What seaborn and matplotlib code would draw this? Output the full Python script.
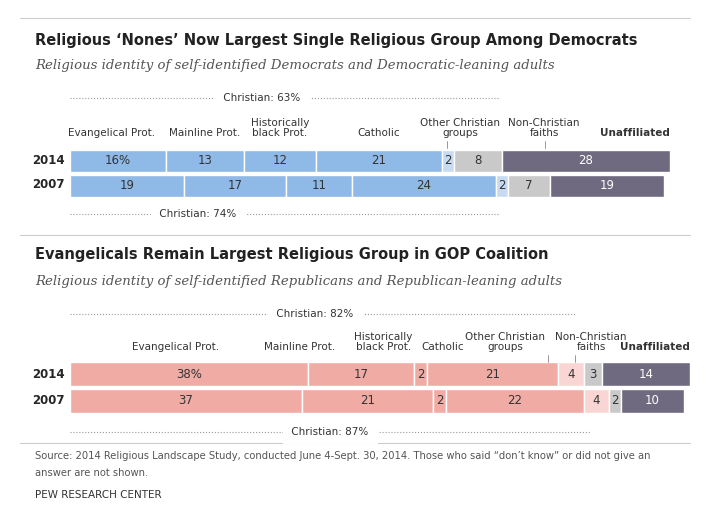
import matplotlib
matplotlib.use("Agg")
import matplotlib.pyplot as plt
import seaborn as sns
import numpy as np

sns.set_style("white")
plt.rcParams['font.family'] = ['DejaVu Sans']

years = ["2014", "2007"]
cats = ["Evangelical Prot.", "Mainline Prot.", "Historically\nblack Prot.", "Catholic",
        "Other Christian\ngroups", "Non-Christian\nfaiths", "Unaffiliated"]
dem_2014 = [16, 13, 12, 21, 2, 8, 28]
dem_2007 = [19, 17, 11, 24, 2, 7, 19]
rep_2014 = [38, 17, 2, 21, 4, 3, 14]
rep_2007 = [37, 21, 2, 22, 4, 2, 10]

W, H = 709, 512
fig = plt.figure(figsize=(W/100, H/100), dpi=100)

def P(x, y):
    return x / W, 1 - y / H

def txt(x, y, s, **kw):
    fx, fy = P(x, y)
    fig.text(fx, fy, s, **kw)

def hline(x0, x1, y, **kw):
    fig.add_artist(plt.Line2D([x0/W, x1/W], [1-y/H, 1-y/H], **kw))

def vline(x, y0, y1, **kw):
    fig.add_artist(plt.Line2D([x/W, x/W], [1-y0/H, 1-y1/H], **kw))

blue, lblue = "#8fb9e6", "#c6dbf1"
red, lred = "#f0aba4", "#f9d6d3"
gray, purple = "#c9c9c9", "#6f6a80"

def panel(y_top, y_bot, xmax, x_right, rows, colors):
    ax = fig.add_axes([70/W, 1-y_bot/H, (x_right-70)/W, (y_bot-y_top)/H])
    for i, vals in enumerate(rows):
        left = 0
        for j, v in enumerate(vals):
            ax.barh(i, v, left=left, height=0.88, color=colors[j], edgecolor="white", linewidth=1)
            s = f"{v}%" if j == 0 and i == 0 else str(v)
            tc = "white" if j == 6 else "#333333"
            ax.text(left + v/2, i, s, ha="center", va="center", fontsize=8.5, color=tc)
            left += v
    ax.set_xlim(0, xmax)
    ax.set_ylim(1.5, -0.5)
    ax.axis("off")
    return ax

dcol = [blue]*4 + [lblue, gray, purple]
rcol = [red]*4 + [lred, gray, purple]
LF = 7.5

hline(20, 690, 18, color="#cccccc", lw=0.8)
txt(35, 40, "Religious \u2018Nones\u2019 Now Largest Single Religious Group Among Democrats",
    fontsize=10.5, fontweight="bold", va="center", color="#222222")
txt(35, 66, "Religious identity of self-identified Democrats and Democratic-leaning adults",
    fontsize=9.5, style="italic", va="center", color="#555555", family="DejaVu Serif")

panel(148, 198, 100, 670, [dem_2014, dem_2007], dcol)
txt(48, 160, "2014", fontsize=8.5, fontweight="bold", ha="center", va="center")
txt(48, 185, "2007", fontsize=8.5, fontweight="bold", ha="center", va="center")

def d2px(v, xmax, xr):
    return 70 + v * (xr - 70) / xmax

top_lbls = [(7, "Evangelical Prot."), (22.5, "Mainline Prot."), (35, "Historically\nblack Prot."),
            (51.5, "Catholic"), (65, "Other Christian\ngroups"), (79, "Non-Christian\nfaiths")]
for v, s in top_lbls:
    txt(d2px(v, 100, 670), 138, s, fontsize=LF, ha="center", va="bottom", color="#333333", linespacing=0.95)
txt(670, 138, "Unaffiliated", fontsize=LF, ha="right", va="bottom", fontweight="bold", color="#333333")
vline(447, 141, 148, color="#888888", lw=0.6)
vline(545, 141, 148, color="#888888", lw=0.6)

hline(70, 500, 98, color="#999999", lw=0.8, ls=":")
txt(262, 98, " Christian: 63% ", fontsize=LF, ha="center", va="center", color="#333333",
    backgroundcolor="white")
hline(70, 500, 214, color="#999999", lw=0.8, ls=":")
txt(198, 214, " Christian: 74% ", fontsize=LF, ha="center", va="center", color="#333333",
    backgroundcolor="white")

hline(20, 690, 235, color="#cccccc", lw=0.8)
txt(35, 254, "Evangelicals Remain Largest Religious Group in GOP Coalition",
    fontsize=10.5, fontweight="bold", va="center", color="#222222")
txt(35, 281, "Religious identity of self-identified Republicans and Republican-leaning adults",
    fontsize=9.5, style="italic", va="center", color="#555555", family="DejaVu Serif")

panel(360.5, 414.5, 99, 690, [rep_2014, rep_2007], rcol)
txt(48, 374, "2014", fontsize=8.5, fontweight="bold", ha="center", va="center")
txt(48, 401, "2007", fontsize=8.5, fontweight="bold", ha="center", va="center")

bot_lbls = [(16.8, "Evangelical Prot."), (36.7, "Mainline Prot."), (50, "Historically\nblack Prot."),
            (59.5, "Catholic"), (69.5, "Other Christian\ngroups"), (83.2, "Non-Christian\nfaiths")]
for v, s in bot_lbls:
    txt(d2px(v, 99, 690), 352, s, fontsize=LF, ha="center", va="bottom", color="#333333", linespacing=0.95)
txt(690, 352, "Unaffiliated", fontsize=LF, ha="right", va="bottom", fontweight="bold", color="#333333")
vline(548, 355, 362, color="#888888", lw=0.6)
vline(575, 355, 362, color="#888888", lw=0.6)

hline(70, 575, 314, color="#999999", lw=0.8, ls=":")
txt(315, 314, " Christian: 82% ", fontsize=LF, ha="center", va="center", color="#333333",
    backgroundcolor="white")
hline(70, 590, 432, color="#999999", lw=0.8, ls=":")
txt(330, 432, " Christian: 87% ", fontsize=LF, ha="center", va="center", color="#333333",
    backgroundcolor="white")

hline(20, 690, 443, color="#cccccc", lw=0.8)
txt(35, 456, "Source: 2014 Religious Landscape Study, conducted June 4-Sept. 30, 2014. Those who said \u201cdon\u2019t know\u201d or did not give an",
    fontsize=7.2, va="center", color="#555555")
txt(35, 473, "answer are not shown.", fontsize=7.2, va="center", color="#555555")
txt(35, 495, "PEW RESEARCH CENTER", fontsize=7.5, va="center", color="#333333")

fig.savefig("out.png", dpi=100, facecolor="white")
